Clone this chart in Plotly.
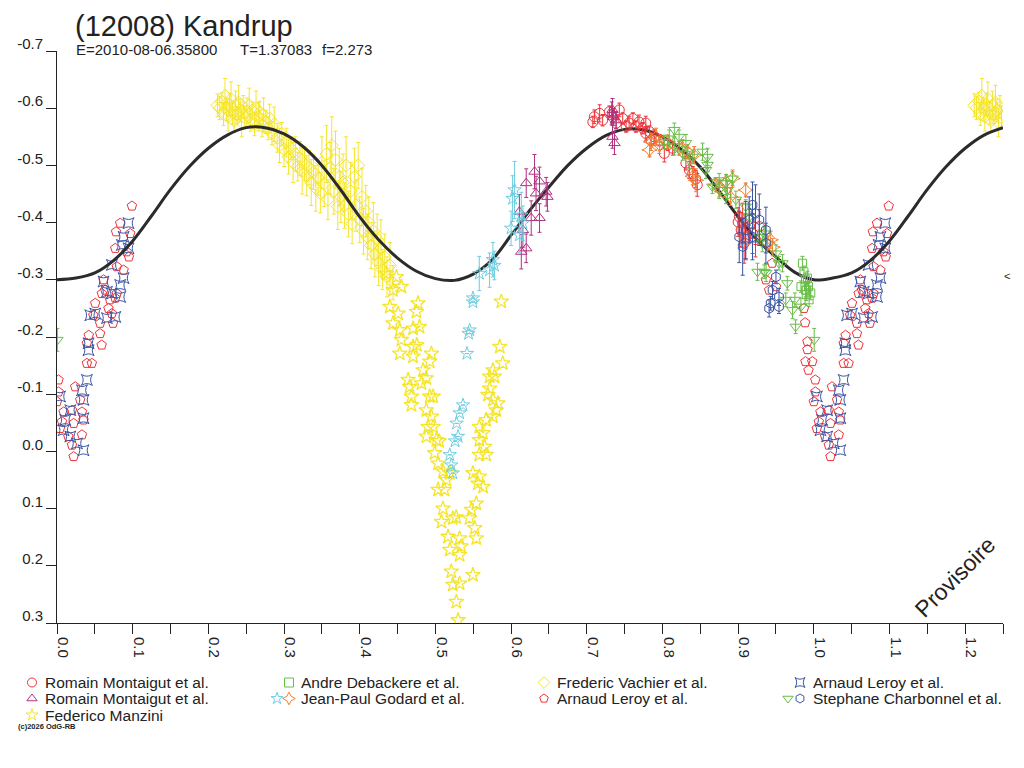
import plotly.graph_objects as go

# ---------------- DATA ----------------
curve_phase = [0.000, 0.025, 0.050, 0.075, 0.100, 0.125, 0.150, 0.175, 0.200, 0.225,
               0.250, 0.275, 0.300, 0.325, 0.350, 0.375, 0.400, 0.425, 0.450, 0.475,
               0.500, 0.525, 0.550, 0.575, 0.600, 0.625, 0.650, 0.675, 0.700, 0.725,
               0.750, 0.775, 0.800, 0.825, 0.850, 0.875, 0.900, 0.925, 0.950, 0.975, 1.000]
curve_mag = [-0.300, -0.303, -0.312, -0.334, -0.368, -0.412, -0.458, -0.498, -0.530, -0.553,
             -0.566, -0.566, -0.555, -0.533, -0.500, -0.457, -0.410, -0.370, -0.338, -0.315,
             -0.302, -0.299, -0.310, -0.335, -0.378, -0.422, -0.462, -0.500, -0.530, -0.552,
             -0.563, -0.562, -0.550, -0.528, -0.497, -0.455, -0.410, -0.370, -0.340, -0.313, -0.300]

# Romain Montaigut et al. (circles)
rc_phase = [0.710, 0.708, 0.717, 0.721, 0.743, 0.7475, 0.756, 0.765, 0.774, 0.778,
            0.783, 0.789, 0.796, 0.8025, 0.807, 0.8135, 0.831, 0.8355, 0.840, 0.846,
            0.844, 0.730, 0.734, 0.761, 0.769, 0.752, 0.739, 0.778, 0.785, 0.9015,
            0.906, 0.904, 0.910, 0.9147, 0.919, 0.923, 0.908, 0.928, 0.900]
rc_mag = [-0.585, -0.576, -0.591, -0.579, -0.597, -0.582, -0.574, -0.568, -0.565, -0.574,
          -0.559, -0.550, -0.544, -0.521, -0.536, -0.530, -0.504, -0.492, -0.486, -0.466,
          -0.476, -0.594, -0.585, -0.582, -0.576, -0.568, -0.574, -0.556, -0.544, -0.410,
          -0.399, -0.387, -0.375, -0.393, -0.381, -0.370, -0.364, -0.393, -0.401]
rc_err = [0.012, 0.010, 0.015, 0.010, 0.012, 0.010, 0.012, 0.010, 0.010, 0.012,
          0.010, 0.012, 0.010, 0.015, 0.010, 0.012, 0.012, 0.015, 0.012, 0.020,
          0.015, 0.010, 0.012, 0.010, 0.012, 0.010, 0.010, 0.012, 0.010, 0.030,
          0.035, 0.030, 0.040, 0.030, 0.035, 0.030, 0.035, 0.030, 0.025]

# Romain Montaigut et al. (triangles)
pt_phase = [0.620, 0.631, 0.6376, 0.633, 0.6464, 0.6266, 0.6376, 0.6156, 0.620, 0.6135,
            0.611, 0.648, 0.734, 0.7355, 0.733, 0.7386, 0.734, 0.7366]
pt_mag = [-0.469, -0.489, -0.472, -0.451, -0.454, -0.408, -0.408, -0.387, -0.355, -0.349,
          -0.419, -0.445, -0.597, -0.585, -0.591, -0.579, -0.550, -0.539]
pt_err = [0.025, 0.030, 0.025, 0.030, 0.025, 0.030, 0.025, 0.030, 0.025, 0.030,
          0.030, 0.025, 0.020, 0.015, 0.020, 0.015, 0.020, 0.020]

# Andre Debackere et al. (squares)
gs_phase = [0.985, 0.987, 0.989, 0.990, 0.9938, 0.990, 0.996, 0.983, 0.9916, 0.993, 0.9894]
gs_mag = [-0.329, -0.314, -0.300, -0.282, -0.265, -0.274, -0.277, -0.288, -0.303, -0.288, -0.282]
gs_err = [0.012, 0.010, 0.012, 0.015, 0.012, 0.010, 0.012, 0.010, 0.012, 0.010, 0.012]

# Jean-Paul Godard et al. (cyan stars)
cs_phase = [0.6046, 0.602, 0.600, 0.6135, 0.6156, 0.611, 0.576, 0.578, 0.5716, 0.558,
            0.5496, 0.5496, 0.5453, 0.5438, 0.5417, 0.5365, 0.532, 0.528, 0.530, 0.526,
            0.519, 0.521, 0.523]
cs_mag = [-0.457, -0.442, -0.390, -0.413, -0.399, -0.378, -0.335, -0.325, -0.317, -0.311,
          -0.268, -0.261, -0.212, -0.206, -0.171, -0.081, -0.067, -0.049, -0.026, -0.018,
          0.006, 0.024, 0.038]
cs_err = [0.050, 0.040, 0.030, 0.040, 0.030, 0.030, 0.030, 0.025, 0.030, 0.030,
          0, 0, 0, 0, 0, 0, 0, 0, 0, 0, 0, 0, 0]

# Jean-Paul Godard et al. (orange 4-point stars)
os_phase = [0.785, 0.783, 0.796, 0.807, 0.8267, 0.8333, 0.842, 0.8443, 0.840, 0.8707,
            0.875, 0.884, 0.8926, 0.890, 0.910, 0.943, 0.939, 0.9455, 0.822, 0.7916]
os_mag = [-0.541, -0.527, -0.536, -0.541, -0.530, -0.524, -0.518, -0.474, -0.481, -0.466,
          -0.460, -0.472, -0.477, -0.445, -0.457, -0.370, -0.364, -0.357, -0.530, -0.550]
os_err = [0.015, 0.012, 0.015, 0.012, 0.015, 0.012, 0.015, 0.020, 0.015, 0.012,
          0.015, 0.012, 0.015, 0.015, 0.012, 0.015, 0.012, 0.015, 0.012, 0.015]

# Frederic Vachier et al. (diamonds)
vd_phase = [0.212, 0.215, 0.218, 0.220, 0.222, 0.224, 0.226, 0.228, 0.230, 0.232,
            0.234, 0.236, 0.238, 0.240, 0.242, 0.244, 0.246, 0.248, 0.251, 0.254,
            0.256, 0.258, 0.261, 0.263, 0.266, 0.268, 0.271, 0.273, 0.276, 0.279,
            0.281, 0.284, 0.287, 0.291, 0.294, 0.297, 0.300, 0.303, 0.306, 0.309,
            0.312, 0.315, 0.318, 0.321, 0.324, 0.327, 0.330, 0.333, 0.336, 0.339,
            0.342, 0.345, 0.348, 0.350, 0.353, 0.356, 0.358, 0.361, 0.363, 0.366,
            0.368, 0.371, 0.373, 0.375, 0.378, 0.380, 0.382, 0.385, 0.388, 0.390,
            0.393, 0.395, 0.398, 0.400, 0.403, 0.405, 0.408, 0.410, 0.412, 0.415,
            0.418, 0.420, 0.423, 0.425, 0.428, 0.430, 0.433, 0.436, 0.440, 0.444]
vd_mag = [-0.605, -0.600, -0.612, -0.590, -0.622, -0.598, -0.585, -0.606, -0.616, -0.592,
          -0.578, -0.605, -0.588, -0.610, -0.596, -0.575, -0.602, -0.584, -0.593, -0.605,
          -0.580, -0.596, -0.572, -0.600, -0.585, -0.592, -0.570, -0.588, -0.576, -0.565,
          -0.582, -0.556, -0.572, -0.548, -0.535, -0.555, -0.528, -0.540, -0.515, -0.530,
          -0.505, -0.520, -0.498, -0.512, -0.490, -0.503, -0.482, -0.496, -0.470, -0.488,
          -0.460, -0.478, -0.452, -0.505, -0.468, -0.520, -0.440, -0.495, -0.535, -0.455,
          -0.510, -0.428, -0.480, -0.445, -0.470, -0.430, -0.500, -0.415, -0.455, -0.398,
          -0.480, -0.430, -0.500, -0.405, -0.445, -0.385, -0.420, -0.375, -0.400, -0.360,
          -0.385, -0.345, -0.370, -0.330, -0.355, -0.318, -0.340, -0.305, -0.325, -0.295]
vd_err = [0.020, 0.020, 0.015, 0.020, 0.030, 0.020, 0.025, 0.020, 0.030, 0.020,
          0.020, 0.025, 0.015, 0.030, 0.020, 0.025, 0.020, 0.020, 0.025, 0.030,
          0.020, 0.015, 0.020, 0.030, 0.025, 0.020, 0.020, 0.030, 0.020, 0.020,
          0.025, 0.020, 0.030, 0.025, 0.030, 0.020, 0.030, 0.025, 0.030, 0.020,
          0.035, 0.030, 0.025, 0.030, 0.040, 0.030, 0.035, 0.030, 0.040, 0.030,
          0.040, 0.030, 0.035, 0.045, 0.040, 0.050, 0.035, 0.045, 0.050, 0.040,
          0.050, 0.040, 0.050, 0.045, 0.050, 0.040, 0.050, 0.040, 0.050, 0.035,
          0.050, 0.045, 0.040, 0.040, 0.050, 0.040, 0.045, 0.040, 0.045, 0.040,
          0.050, 0.040, 0.045, 0.040, 0.050, 0.035, 0.040, 0.035, 0.040, 0.030]

# Arnaud Leroy et al. (star-squares)
ss_phase = [0.0945, 0.088, 0.0857, 0.0945, 0.0725, 0.088, 0.0615, 0.0835, 0.066, 0.0725,
            0.0835, 0.044, 0.0505, 0.066, 0.077, 0.0417, 0.0417, 0.0395, 0.033, 0.035,
            0.004, 0.0176, 0.011, 0.035, 0.0088, 0.0176, 0.0264, 0.035]
ss_mag = [-0.399, -0.375, -0.361, -0.355, -0.326, -0.303, -0.297, -0.291, -0.279, -0.276,
          -0.270, -0.238, -0.241, -0.233, -0.235, -0.189, -0.177, -0.125, -0.107, -0.090,
          -0.096, -0.072, -0.055, -0.058, -0.037, -0.026, -0.014, -0.002]

# Arnaud Leroy et al. (pentagons)
pe_phase = [0.099, 0.0835, 0.078, 0.0967, 0.077, 0.092, 0.095, 0.079, 0.088, 0.0615,
            0.0637, 0.079, 0.0593, 0.0505, 0.070, 0.077, 0.048, 0.068, 0.0725, 0.057,
            0.074, 0.042, 0.057, 0.0395, 0.059, 0.0395, 0.046, 0.002, 0.024, 0.002,
            0.000, 0.0307, 0.0088, 0.0198, 0.033, 0.0066, 0.022, 0.035, 0.015, 0.033,
            0.0198, 0.022, 0.004, 0.9367, 0.941, 0.950, 0.945, 0.987, 0.9886, 0.9916,
            0.9916, 0.989, 0.998, 0.993]
pe_mag = [-0.429, -0.399, -0.384, -0.381, -0.355, -0.349, -0.340, -0.323, -0.317, -0.300,
          -0.282, -0.276, -0.276, -0.259, -0.265, -0.268, -0.238, -0.250, -0.241, -0.224,
          -0.224, -0.203, -0.206, -0.189, -0.186, -0.154, -0.154, -0.125, -0.113, -0.104,
          -0.087, -0.090, -0.069, -0.072, -0.069, -0.052, -0.049, -0.055, -0.026, -0.029,
          -0.011, 0.009, -0.040, -0.300, -0.282, -0.288, -0.329, -0.250, -0.225, -0.192,
          -0.178, -0.157, -0.157, -0.142]

# Stephane Charbonnel et al. (triangles down)
gt_phase = [0.8157, 0.809, 0.822, 0.8157, 0.8025, 0.831, 0.8267, 0.8355, 0.840, 0.8597,
            0.8597, 0.8575, 0.875, 0.884, 0.8926, 0.886, 0.884, 0.897, 0.910, 0.9147,
            0.928, 0.932, 0.9345, 0.950, 0.954, 0.9256, 0.9345, 0.937, 0.965, 0.9586,
            0.963, 0.9718, 0.975, 0.983, 0.976, 0.853, 0.866, 0.875, 0.0005]
gt_mag = [-0.562, -0.547, -0.550, -0.533, -0.541, -0.539, -0.521, -0.509, -0.515, -0.515,
          -0.501, -0.492, -0.474, -0.469, -0.477, -0.457, -0.445, -0.440, -0.428, -0.410,
          -0.375, -0.364, -0.381, -0.346, -0.329, -0.314, -0.314, -0.312, -0.294, -0.329,
          -0.265, -0.247, -0.265, -0.253, -0.218, -0.524, -0.463, -0.457, -0.195]
gt_err = [0.012, 0.015, 0.012, 0.015, 0.012, 0.015, 0.012, 0.015, 0.012, 0.015,
          0.012, 0.015, 0.012, 0.015, 0.012, 0.015, 0.012, 0.015, 0.012, 0.015,
          0.012, 0.015, 0.012, 0.015, 0.012, 0.015, 0.012, 0.015, 0.012, 0.015,
          0.012, 0.015, 0.012, 0.015, 0.012, 0.015, 0.012, 0.015, 0.020]

# Stephane Charbonnel et al. (hexagons)
bh_phase = [0.919, 0.923, 0.9147, 0.928, 0.910, 0.919, 0.9015, 0.906, 0.9367, 0.9367,
            0.9455, 0.943, 0.954, 0.950, 0.954, 0.941]
bh_mag = [-0.431, -0.416, -0.405, -0.405, -0.387, -0.375, -0.375, -0.358, -0.387, -0.364,
          -0.282, -0.259, -0.270, -0.305, -0.253, -0.250]
bh_err = [0.040, 0.050, 0.040, 0.045, 0.050, 0.040, 0.045, 0.050, 0.040, 0.035,
          0.015, 0.012, 0.015, 0.012, 0.012, 0.015]

# Federico Manzini (stars)
ms_phase = [0.4485, 0.444, 0.455, 0.4397, 0.4507, 0.444, 0.4529, 0.477, 0.475, 0.479,
            0.4705, 0.455, 0.4529, 0.4705, 0.4755, 0.4705, 0.4947, 0.4925, 0.4837, 0.488,
            0.4639, 0.466, 0.4683, 0.4683, 0.4815, 0.4925, 0.497, 0.488, 0.4947, 0.4903,
            0.497, 0.488, 0.5013, 0.505, 0.499, 0.5035, 0.510, 0.519, 0.5035, 0.512,
            0.5145, 0.510, 0.508, 0.523, 0.5275, 0.5167, 0.532, 0.519, 0.532, 0.534,
            0.521, 0.523, 0.532, 0.5277, 0.530, 0.5496, 0.435,
            0.587, 0.585, 0.589, 0.576, 0.5716, 0.578, 0.5716, 0.5694, 0.576, 0.5826,
            0.5804, 0.576, 0.567, 0.558, 0.5628, 0.558, 0.565, 0.558, 0.567, 0.5496,
            0.558, 0.556, 0.563, 0.554, 0.5475, 0.545, 0.552, 0.554]
ms_mag = [-0.305, -0.282, -0.288, -0.253, -0.241, -0.224, -0.212, -0.259, -0.244, -0.218,
          -0.215, -0.195, -0.171, -0.183, -0.186, -0.166, -0.171, -0.157, -0.142, -0.128,
          -0.125, -0.113, -0.096, -0.081, -0.119, -0.096, -0.096, -0.072, -0.061, -0.043,
          -0.043, -0.026, -0.020, -0.018, 0.003, 0.021, 0.035, 0.038, 0.067, 0.067,
          0.050, 0.100, 0.123, 0.117, 0.115, 0.149, 0.152, 0.172, 0.181, 0.166,
          0.210, 0.233, 0.231, 0.263, 0.295, 0.216, -0.311,
          -0.262, -0.183, -0.154, -0.142, -0.131, -0.131, -0.110, -0.099, -0.090, -0.084,
          -0.072, -0.061, -0.055, -0.043, -0.032, -0.020, -0.008, 0.006, 0.006, 0.038,
          0.044, 0.056, 0.062, 0.091, 0.102, 0.117, 0.134, 0.152]

x_tick_vals = [0.00, 0.05, 0.10, 0.15, 0.20, 0.25, 0.30, 0.35, 0.40, 0.45, 0.50, 0.55, 0.60,
               0.65, 0.70, 0.75, 0.80, 0.85, 0.90, 0.95, 1.00, 1.05, 1.10, 1.15, 1.20, 1.25]
x_tick_text = ["0.0", "", "0.1", "", "0.2", "", "0.3", "", "0.4", "", "0.5", "", "0.6",
               "", "0.7", "", "0.8", "", "0.9", "", "1.0", "", "1.1", "", "1.2", ""]
y_tick_vals = [-0.7, -0.6, -0.5, -0.4, -0.3, -0.2, -0.1, 0.0, 0.1, 0.2, 0.3]
y_tick_text = ["-0.7", "-0.6", "-0.5", "-0.4", "-0.3", "-0.2", "-0.1", "0.0", "0.1", "0.2", "0.3"]

title_text = "(12008) Kandrup"
sub_e = "E=2010-08-06.35800"
sub_t = "T=1.37083"
sub_f = "f=2.273"

# ---------------- helpers ----------------
RED = "#ee3238"
PURPLE = "#b0307f"
GREEN = "#68bd48"
CYAN = "#6dcde0"
ORANGE = "#f07f2e"
YELLOW = "#f5e52a"
BLUE = "#3a54a6"
INK = "#222222"
FONT = "Liberation Sans, Arial, sans-serif"

# the page body has an 8 px margin: the figure occupies page pixels 8..1016 x 8..760
OFF = 8
W, H = 1008, 752
X0, X1, Y0, Y1 = 57, 1003, 51, 623   # plot area in page pixels
XMAX = 1.25


def wrap(ph, mg, er=None):
    xs, ys = list(ph), list(mg)
    es = list(er) if er is not None else None
    for i, p in enumerate(ph):
        if p < 0.25:
            xs.append(p + 1.0)
            ys.append(mg[i])
            if es is not None:
                es.append(er[i])
    return xs, ys, es


fig = go.Figure()


def add_series(ph, mg, er, symbol, color, size=11, lw=1.0):
    xs, ys, es = wrap(ph, mg, er)
    kw = {}
    if es is not None:
        kw["error_y"] = dict(type="data", array=es, visible=True, color=color,
                             thickness=1, width=2)
    fig.add_trace(go.Scatter(x=xs, y=ys, mode="markers",
                             marker=dict(symbol=symbol, size=size, color=color,
                                         line=dict(color=color, width=lw)),
                             showlegend=False, hoverinfo="skip", **kw))


add_series(vd_phase, vd_mag, vd_err, "diamond-open", YELLOW, 10)
add_series(ms_phase, ms_mag, None, "star-open", YELLOW, 11, 1.3)
add_series(pe_phase, pe_mag, None, "pentagon-open", RED, 10)
add_series(ss_phase, ss_mag, None, "star-square-open", BLUE, 10)

# fit curve
cx, cy = list(curve_phase), list(curve_mag)
for i, p in enumerate(curve_phase):
    if 0 < p <= 0.25:
        cx.append(p + 1.0)
        cy.append(curve_mag[i])
fig.add_trace(go.Scatter(x=cx, y=cy, mode="lines",
                         line=dict(color="#2b2b2b", width=3, shape="spline"),
                         showlegend=False, hoverinfo="skip"))

add_series(rc_phase, rc_mag, rc_err, "circle-open", RED, 10)
add_series(pt_phase, pt_mag, pt_err, "triangle-up-open", PURPLE, 10)
add_series(cs_phase, cs_mag, cs_err, "star-open", CYAN, 10)
add_series(os_phase, os_mag, os_err, "star-diamond-open", ORANGE, 11)
add_series(gt_phase, gt_mag, gt_err, "triangle-down-open", GREEN, 10)
add_series(bh_phase, bh_mag, bh_err, "hexagon-open", BLUE, 10)
add_series(gs_phase, gs_mag, gs_err, "square-open", GREEN, 8)

# ---------------- custom legend (page-pixel overlay axes) ----------------
legend_rows = [682.5, 698.5, 715.0]
legend_items = [
    (0, [(32, "circle-open", RED)], 43, "Romain Montaigut et al."),
    (0, [(289, "square-open", GREEN)], 299, "Andre Debackere et al."),
    (0, [(544, "diamond-open", YELLOW)], 555, "Frederic Vachier et al."),
    (0, [(800, "star-square-open", BLUE)], 811, "Arnaud Leroy et al."),
    (1, [(32, "triangle-up-open", PURPLE)], 43, "Romain Montaigut et al."),
    (1, [(277, "star-open", CYAN), (289, "star-diamond-open", ORANGE)], 299, "Jean-Paul Godard et al."),
    (1, [(544, "pentagon-open", RED)], 555, "Arnaud Leroy et al."),
    (1, [(788, "triangle-down-open", GREEN), (800, "hexagon-open", BLUE)], 811, "Stephane Charbonnel et al."),
    (2, [(32, "star-open", YELLOW)], 43, "Federico Manzini"),
]
annotations = []
for row, syms, tx, label in legend_items:
    py = legend_rows[row]
    for sx, sym, col in syms:
        fig.add_trace(go.Scatter(x=[sx], y=[py], mode="markers", xaxis="x2", yaxis="y2",
                                 marker=dict(symbol=sym, size=9, color=col,
                                             line=dict(color=col, width=1)),
                                 showlegend=False, hoverinfo="skip"))
    annotations.append(dict(x=tx, y=py, xref="x2", yref="y2",
                            text=label, showarrow=False, xanchor="left", yanchor="middle",
                            font=dict(family=FONT, size=15.5, color=INK)))

annotations += [
    dict(x=74, y=8.5, xref="x2", yref="y2", text=title_text, showarrow=False,
         xanchor="left", yanchor="top", borderpad=0,
         font=dict(family=FONT, size=29, color=INK)),
    dict(x=75, y=49.5, xref="x2", yref="y2", text=sub_e, showarrow=False, borderpad=0,
         xanchor="left", yanchor="middle", font=dict(family=FONT, size=15, color=INK)),
    dict(x=239, y=49.5, xref="x2", yref="y2", text=sub_t, showarrow=False, borderpad=0,
         xanchor="left", yanchor="middle", font=dict(family=FONT, size=15, color=INK)),
    dict(x=321, y=49.5, xref="x2", yref="y2", text=sub_f, showarrow=False, borderpad=0,
         xanchor="left", yanchor="middle", font=dict(family=FONT, size=15, color=INK)),
    dict(x=955, y=577, xref="x2", yref="y2", text="Provisoire", showarrow=False,
         textangle=-45, xanchor="center", yanchor="middle",
         font=dict(family=FONT, size=23, color=INK)),
    dict(x=1007, y=276, xref="x2", yref="y2", text="<", showarrow=False,
         xanchor="center", yanchor="middle", font=dict(family=FONT, size=11, color=INK)),
    dict(x=16, y=726, xref="x2", yref="y2", text="<b>(c)2026 OdG-RB</b>", showarrow=False,
         xanchor="left", yanchor="middle", font=dict(family=FONT, size=7.5, color=INK)),
]

fig.update_layout(
    width=W, height=H,
    margin=dict(l=0, r=0, t=0, b=0, pad=0),
    paper_bgcolor="white", plot_bgcolor="rgba(0,0,0,0)",
    showlegend=False,
    annotations=annotations,
    font=dict(family=FONT, color=INK),
    xaxis=dict(domain=[(X0 - OFF) / W, (X1 - OFF) / W], anchor="y",
               range=[0, XMAX], showgrid=False, zeroline=False, showline=True, automargin=False,
               linecolor=INK, linewidth=1, ticks="outside", ticklen=10, tickwidth=1,
               tickcolor=INK, tickmode="array", tickvals=x_tick_vals, ticktext=x_tick_text,
               tickangle=90, tickfont=dict(family=FONT, size=15, color=INK),
               ticklabelshift=6),
    yaxis=dict(domain=[1 - (Y1 - OFF) / H, 1 - (Y0 - OFF) / H], anchor="x",
               range=[0.3, -0.7], showgrid=False, zeroline=False, showline=True, automargin=False,
               linecolor=INK, linewidth=1, ticks="outside", ticklen=10, tickwidth=1,
               tickcolor=INK, tickmode="array", tickvals=y_tick_vals, ticktext=y_tick_text,
               tickfont=dict(family=FONT, size=15, color=INK), ticklabelshift=7),
    xaxis2=dict(domain=[0, 1], anchor="y2", range=[OFF, OFF + W], visible=False,
                automargin=False, fixedrange=True),
    yaxis2=dict(domain=[0, 1], anchor="x2", range=[OFF + H, OFF], visible=False,
                automargin=False, fixedrange=True),
)

fig.write_html("out.html")
